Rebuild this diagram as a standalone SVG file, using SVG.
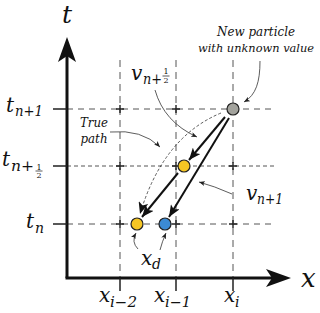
<svg xmlns="http://www.w3.org/2000/svg" width="320" height="313" viewBox="0 0 320 313">
<defs>
<style>
.grid{stroke:#555;stroke-width:1;fill:none}
.plus{stroke:#222;stroke-width:1.4}
.axis{stroke:#111;stroke-width:3;fill:none}
.tick{stroke:#222;stroke-width:1.5}
.thick{stroke:#111;stroke-width:2;fill:none}
.thin{stroke:#333;stroke-width:0.8;fill:none}
.bar{stroke:#111;stroke-width:0.7}
text{font-family:'DejaVu Serif',serif;font-style:italic;fill:#111}
.m{font-size:20px}
.s{font-size:14px}
.f{font-size:8px;font-style:normal}
</style>
<marker id="big" markerUnits="userSpaceOnUse" markerWidth="13" markerHeight="10" refX="12" refY="5" orient="auto" viewBox="0 0 13 10">
<path d="M0,0 L12,5 L0,10 L3,5 Z" fill="#111"/>
</marker>
<marker id="small" markerUnits="userSpaceOnUse" markerWidth="7" markerHeight="5" refX="6" refY="2.5" orient="auto" viewBox="0 0 7 5">
<path d="M0,0 L6,2.5 L0,5 L1.5,2.5 Z" fill="#222"/>
</marker>
</defs>
<rect width="320" height="313" fill="#fff"/>

<g id="grid">
<line class="grid" x1="120" y1="60" x2="120" y2="278" stroke-dasharray="7,5"/>
<line class="grid" x1="176" y1="60" x2="176" y2="278" stroke-dasharray="7,5"/>
<line class="grid" x1="233" y1="60" x2="233" y2="278" stroke-dasharray="7,5"/>
<line class="grid" x1="67" y1="109" x2="275" y2="109" stroke-dasharray="6,5"/>
<line class="grid" x1="67" y1="166" x2="275" y2="166" stroke-dasharray="4,3"/>
<line class="grid" x1="67" y1="224" x2="275" y2="224" stroke-dasharray="6,5"/>
<path class="plus" d="M116,109h8M120,105v8M172,109h8M176,105v8M116,166h8M120,162v8M172,166h8M176,162v8M229,166h8M233,162v8M116,224h8M120,220v8M172,224h8M176,220v8M229,224h8M233,220v8"/>
</g>

<g id="axes">
<line class="axis" x1="67" y1="278" x2="67" y2="52"/>
<line class="axis" x1="65.5" y1="278" x2="276" y2="278"/>
<path d="M67,37 L76,62 L67,56 L58,62 Z" fill="#111"/>
<path d="M291,278 L266,287 L272,278 L266,269 Z" fill="#111"/>
<path class="tick" d="M53,109h14M53,166h14M53,224h14M120,278v13M176,278v13M233,278v13"/>
<text x="67" y="23" font-size="25" text-anchor="middle">t</text>
<text x="301" y="287" font-size="26">x</text>
</g>

<g id="tick-labels">
<text class="m" x="6" y="112">t</text><text class="s" x="15" y="116" textLength="28" lengthAdjust="spacingAndGlyphs">n+1</text>
<text class="m" x="2" y="166">t</text><text class="s" x="11" y="171" textLength="23" lengthAdjust="spacingAndGlyphs">n+</text>
<text class="f" x="39" y="169.5" text-anchor="middle">1</text>
<line class="bar" x1="35.5" y1="171" x2="42.5" y2="171"/>
<text class="f" x="39" y="178" text-anchor="middle">2</text>
<text class="m" x="26" y="228">t</text><text class="s" x="35" y="233">n</text>
<text class="m" x="99" y="302">x</text><text class="s" x="110" y="307" textLength="27" lengthAdjust="spacingAndGlyphs">i−2</text>
<text class="m" x="154" y="302">x</text><text class="s" x="165" y="307" textLength="26" lengthAdjust="spacingAndGlyphs">i−1</text>
<text class="m" x="224" y="302">x</text><text class="s" x="235" y="307">i</text>
</g>

<g id="connectors">
<line class="thick" x1="225" y1="117" x2="189" y2="160" marker-end="url(#big)"/>
<line class="thick" x1="229" y1="118" x2="169" y2="217" marker-end="url(#big)"/>
<line class="thick" x1="178" y1="173" x2="142" y2="217" marker-end="url(#big)"/>
<path class="thin" d="M221,113 Q163,137 140,214" stroke-dasharray="3,2" stroke-width="1" marker-end="url(#big)"/>
<path class="thin" d="M260,61 C260,82 256,95 244,102" marker-end="url(#small)"/>
<path class="thin" d="M155,90 Q164,122 197,137" marker-end="url(#small)"/>
<path class="thin" d="M110,132 Q142,129 160,147" marker-end="url(#small)"/>
<path class="thin" d="M232,194 Q214,186 199,182" marker-end="url(#small)"/>
<path class="thin" d="M138,249 Q131,242 136,233" marker-end="url(#small)"/>
<path class="thin" d="M160,250 Q162,242 166,233" marker-end="url(#small)"/>
</g>

<g id="particle-new">
<circle cx="233" cy="109" r="6" fill="#a3a39d" stroke="#222" stroke-width="1.2"/>
</g>
<g id="particle-mid">
<circle cx="184" cy="166" r="6" fill="#f6c623" stroke="#222" stroke-width="1.2"/>
</g>
<g id="particle-dep">
<circle cx="137" cy="224" r="6" fill="#f6c623" stroke="#222" stroke-width="1.2"/>
</g>
<g id="particle-blue">
<circle cx="165" cy="224" r="6" fill="#3b8ad4" stroke="#222" stroke-width="1.2"/>
</g>

<g id="annotations">
<text x="256" y="36" font-size="12" text-anchor="middle" textLength="78" lengthAdjust="spacingAndGlyphs">New particle</text>
<text x="256" y="52" font-size="11.5" text-anchor="middle" textLength="116" lengthAdjust="spacingAndGlyphs">with unknown value</text>
<text x="94" y="127" font-size="12" text-anchor="middle" textLength="28" lengthAdjust="spacingAndGlyphs">True</text>
<text x="94" y="143" font-size="12" text-anchor="middle" textLength="27" lengthAdjust="spacingAndGlyphs">path</text>
<text class="m" x="131" y="80">v</text><text class="s" x="143" y="84" textLength="19" lengthAdjust="spacingAndGlyphs">n+</text>
<text class="f" x="166" y="74" text-anchor="middle">1</text>
<line class="bar" x1="162.5" y1="76" x2="169.5" y2="76"/>
<text class="f" x="166" y="83" text-anchor="middle">2</text>
<text class="m" x="246" y="200">v</text><text class="s" x="257" y="204" textLength="26" lengthAdjust="spacingAndGlyphs">n+1</text>
<text class="m" x="141" y="265">x</text><text class="s" x="152" y="269">d</text>
</g>
</svg>
